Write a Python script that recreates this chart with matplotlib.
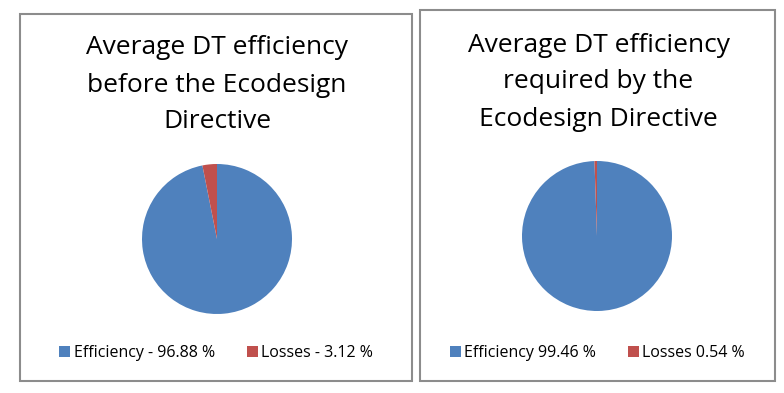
import matplotlib.pyplot as plt
from matplotlib.patches import Rectangle, Patch

plt.rcParams["font.family"] = ["Open Sans", "DejaVu Sans"]

# data
titles = ["Average DT efficiency\nbefore the Ecodesign\nDirective",
          "Average DT efficiency\nrequired by the\nEcodesign Directive"]
values_before = [96.88, 3.12]
values_required = [99.46, 0.54]
labels_before = ["Efficiency - 96.88 %", "Losses - 3.12 %"]
labels_required = ["Efficiency 99.46 %", "Losses 0.54 %"]
colors = ["#4F81BD", "#C0504D"]

W, H = 784, 393
fig = plt.figure(figsize=(W / 100, H / 100), dpi=100)


def px(x0, y0, x1, y1):
    # pixel box (top-left origin) -> figure fraction rect
    return [x0 / W, 1 - y1 / H, (x1 - x0) / W, (y1 - y0) / H]


panels = [
    dict(box=(20, 14, 412, 381), cx=217, cy=239, ty=[48, 86, 122], ly=353,
         title=titles[0], vals=values_before, labs=labels_before),
    dict(box=(420, 10, 775, 381), cx=597, cy=236, ty=[45, 82, 120], ly=353,
         title=titles[1], vals=values_required, labs=labels_required),
]

r = 75
for p in panels:
    x0, y0, x1, y1 = p["box"]
    fig.patches.append(Rectangle((x0 / W, 1 - y1 / H), (x1 - x0) / W, (y1 - y0) / H,
                                 transform=fig.transFigure, fill=False,
                                 edgecolor="#8c8c8c", lw=1.5))
    for line, y in zip(p["title"].split("\n"), p["ty"]):
        fig.text(((x0 + x1) / 2 + 1) / W, 1 - y / H, line, ha="center", va="center",
                 fontsize=19, color="black")
    ax = fig.add_axes(px(p["cx"] - r, p["cy"] - r, p["cx"] + r, p["cy"] + r))
    ax.pie(p["vals"], colors=colors, startangle=90, counterclock=False,
           wedgeprops=dict(linewidth=0))
    ax.set_xlim(-1, 1)
    ax.set_ylim(-1, 1)
    ax.axis("off")
    handles = [Patch(facecolor=c, label=l) for c, l in zip(colors, p["labs"])]
    fig.legend(handles=handles, loc="center", ncol=2, frameon=False,
               bbox_to_anchor=(((x0 + x1) / 2) / W, 1 - p["ly"] / H),
               fontsize=11.5, handlelength=0.7, handleheight=0.7,
               handletextpad=0.2, columnspacing=2.0)

fig.savefig("out.png", dpi=100, facecolor="white")
